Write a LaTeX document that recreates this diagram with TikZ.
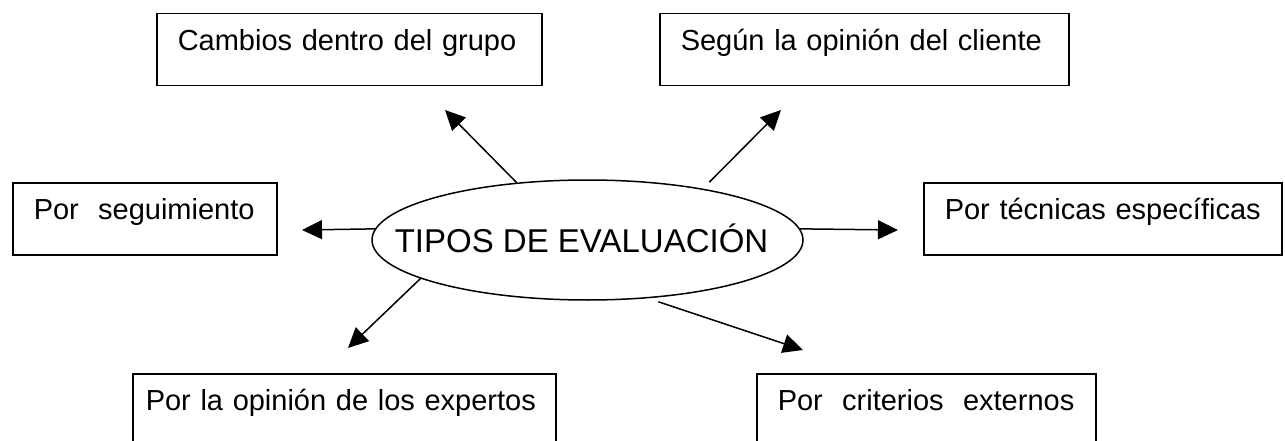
\documentclass[tikz,border=0pt]{standalone}
\usepackage{fontspec}
\setmainfont{Liberation Sans}
\usetikzlibrary{shapes.geometric,arrows.meta}

\tikzset{
  caja/.style={draw, line width=1.5pt, anchor=north west, inner xsep=21pt, inner ysep=16pt,
    align=left, text height=21pt, text depth=19pt, font=\fontsize{29}{34}\selectfont},
  flecha/.style={-{Triangle[length=20pt,width=19pt]}, line width=1.5pt}
}

\begin{document}
\begin{tikzpicture}[x=1pt,y=-1pt]
\useasboundingbox (0,0) rectangle (1285,441);
\clip (0,0) rectangle (1285,441);

% Central ellipse
\node[draw, ellipse, line width=1.5pt, minimum width=431pt, minimum height=120pt, inner sep=0pt,
  label={[font=\fontsize{33}{38}\selectfont, xshift=-6pt, yshift=2pt]center:TIPOS DE EVALUACIÓN}]
  (tipos) at (587.5,240) {};

% Boxes around it
\node[caja, text width=343pt] (cambios) at (156,13) {Cambios dentro del grupo};
\node[caja, text width=367pt] (segun) at (659,13) {Según la opinión del cliente};
\node[caja, text width=222pt] (seguim) at (12,182) {Por\ \ seguimiento};
\node[caja, text width=316pt] (tecnicas) at (923,182) {Por técnicas específicas};
\node[caja, inner xsep=13pt, text width=397pt, text depth=60pt] (expertos) at (132,373) {Por la opinión de los expertos};
\node[caja, text width=297pt, text depth=60pt] (criterios) at (756,373) {Por\ \ criterios\ \ externos};

% Arrow tips
\coordinate (p1) at (445,110);
\coordinate (p2) at (781,110);
\coordinate (p3) at (302,230);
\coordinate (p4) at (898,230);
\coordinate (p5) at (348,348);
\coordinate (p6) at (803,350);

% Arrows out of the ellipse
\draw[flecha] (tipos.141) -- (p1);
\draw[flecha, shorten <=9pt] (tipos.24) -- (p2);
\draw[flecha] (tipos.177) -- (p3);
\draw[flecha] (tipos.3) -- (p4);
\draw[flecha] (tipos.193) -- (p5);
\draw[flecha, shorten <=11pt] (tipos.316) -- (p6);

\end{tikzpicture}
\end{document}
